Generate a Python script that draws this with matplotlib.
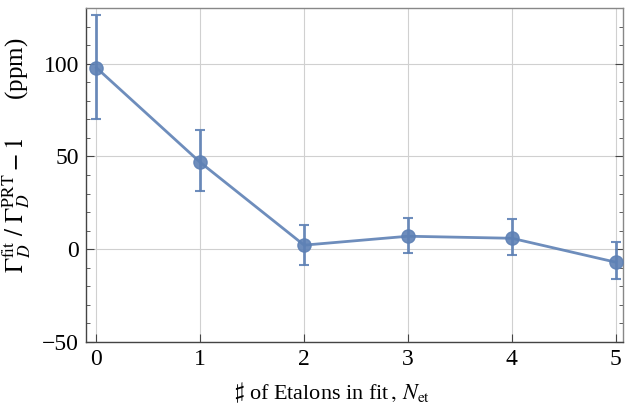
import numpy as np
import matplotlib.pyplot as plt
from matplotlib.ticker import MultipleLocator

plt.rcParams['font.family'] = ['Liberation Serif', 'DejaVu Serif']
plt.rcParams['mathtext.fontset'] = 'stix'

n_etalons = [0, 1, 2, 3, 4, 5]
deviation = [97.8, 46.8, 2.2, 7.0, 5.9, -7.0]
err_up = [28.5, 17.2, 10.7, 9.7, 10.2, 10.8]
err_down = [27.4, 15.6, 10.8, 9.2, 9.1, 9.1]

color = '#5E81B5'

fig = plt.figure(figsize=(6.25, 4.08), dpi=100)
ax = fig.add_axes([86/625, 1 - 342/408, (623 - 86)/625, (342 - 8)/408])

ax.errorbar(n_etalons, deviation, yerr=[err_down, err_up], color=color,
            alpha=0.9, lw=2, marker='o', ms=9.5, capsize=3.5, capthick=1.5,
            elinewidth=2, zorder=3)

ax.set_xlim(-0.1, 5.07)
ax.set_ylim(-50, 130)
ax.set_xticks(n_etalons)
ax.yaxis.set_major_locator(MultipleLocator(50))
ax.yaxis.set_minor_locator(MultipleLocator(10))
ax.grid(True, which='major', color='#d0d0d0', lw=0.8)
ax.set_axisbelow(True)

ax.tick_params(which='both', direction='in', top=False, right=True,
               labelsize=17, color='#444444', pad=5)
ax.tick_params(which='major', length=6)
ax.tick_params(which='minor', length=3)
for s in ax.spines.values():
    s.set_color('#444444')
    s.set_linewidth(1.0)
ax.spines['top'].set_color('#888888')
ax.spines['right'].set_color('#888888')

ax.set_yticks([-50, 0, 50, 100])
ax.set_yticklabels(['\u221250', '0', '50', '100'])

ax.set_xlabel(r'$\sharp$ of Etalons in fit$\,,\,N_{\mathrm{et}}$', fontsize=16)
ax.xaxis.set_label_coords(0.458, -0.115)
ax.set_ylabel(r'$\Gamma_D^{\mathrm{fit}}\ /\ \Gamma_D^{\mathrm{PRT}} - 1$      (ppm)',
              fontsize=18)
ax.yaxis.set_label_coords(-0.1, 0.56)

fig.savefig('out.png', dpi=100)
